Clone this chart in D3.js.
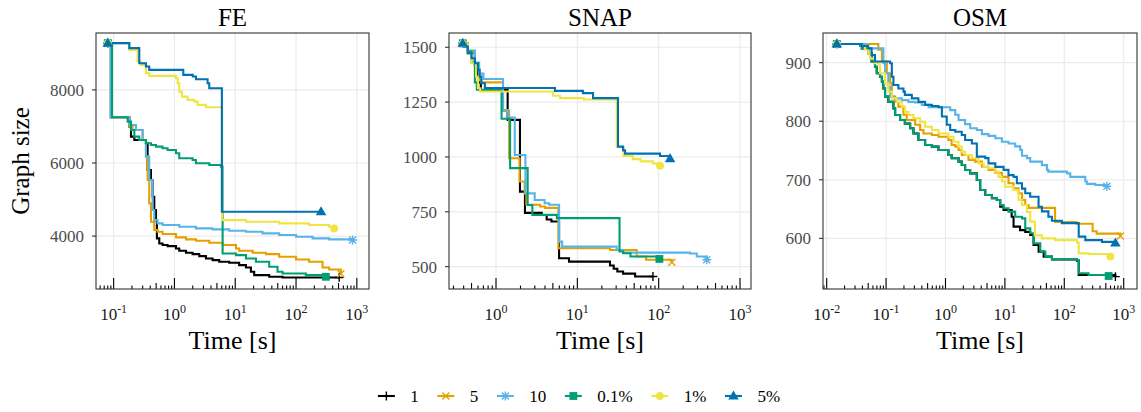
<!DOCTYPE html>
<html>
<head>
<meta charset="utf-8">
<style>
  body { margin: 0; background: #fff; }
  svg, svg text { font-family: "Liberation Serif", "Times New Roman", serif; }
  svg { display: block; }
</style>
</head>
<body>
<svg id="chart" width="1141" height="412"></svg>
<script src="https://d3js.org/d3.v7.min.js"></script>
<script>
// series order as in the legend
const seriesNames = ["1", "5", "10", "0.1%", "1%", "5%"];
const seriesColors = ["#000000", "#E69F00", "#56B4E9", "#009E73", "#F0E442", "#0072B2"];
const seriesShapes = ["plus", "cross", "asterisk", "square", "circle", "triangle"];

// FE: [time s, graph size]
const fe_1 = [[0.080,9279],[0.090,7251],[0.181,6995],[0.193,6722],[0.219,6630],[0.34,6539],[0.362,5808],[0.411,5534],[0.438,5078],[0.466,4713],[0.497,4438],[0.515,3936],[0.563,3799],[0.638,3754],[0.772,3726],[1.06,3662],[1.20,3598],[1.55,3544],[1.99,3507],[2.56,3452],[3.30,3388],[4.24,3343],[5.46,3297],[7.96,3270],[11.6,3206],[15.0,3142],[18.1,3023],[20.5,2932],[36.2,2886],[60,2868],[513,2868]];
const fe_5 = [[0.080,9279],[0.090,7251],[0.181,6995],[0.205,6904],[0.30,6630],[0.34,6174],[0.362,5534],[0.385,4895],[0.411,4393],[0.466,4165],[0.528,4119],[0.638,4055],[1.06,3964],[1.55,3909],[2.26,3872],[3.74,3818],[6.2,3754],[10.3,3662],[11.6,3598],[19.3,3544],[31.9,3507],[52.8,3434],[100,3361],[164,3297],[273,3142],[351,3087],[546,2970]];
const fe_10 = [[0.080,9279],[0.090,7251],[0.181,7041],[0.233,6904],[0.30,6630],[0.34,6174],[0.385,5534],[0.438,4713],[0.466,4438],[0.528,4347],[0.638,4302],[1.20,4256],[2.26,4210],[4.24,4183],[7.96,4146],[15.0,4119],[28.1,4073],[52.8,4028],[100,3982],[187,3936],[351,3909],[849,3891]];
const fe_01 = [[0.080,9279],[0.094,7251],[0.170,7132],[0.193,6904],[0.219,6722],[0.264,6630],[0.34,6539],[0.411,6493],[0.497,6448],[0.638,6402],[0.772,6356],[1.06,6265],[1.20,6128],[1.99,6082],[2.26,5991],[3.74,5945],[5.81,5900],[6.2,3525],[10.3,3480],[15.0,3388],[21.9,3297],[36.2,3160],[49.6,3023],[60,2977],[145,2932],[309,2886]];
const fe_1pct = [[0.080,9279],[0.181,9096],[0.248,8776],[0.281,8685],[0.34,8457],[0.385,8384],[1.06,8320],[1.13,8183],[1.20,7954],[1.33,7817],[1.64,7726],[2.12,7680],[2.40,7589],[3.30,7525],[6.1,4438],[15.0,4393],[52.8,4347],[164,4302],[351,4256],[424,4210]];
const fe_5pct = [[0.080,9279],[0.181,9142],[0.264,8730],[0.34,8639],[0.385,8548],[1.40,8411],[2.0,8365],[2.26,8292],[3.51,8183],[3.74,8046],[6.03,4667],[258,4667]];

// SNAP
const snap_1 = [[0.39,1518],[0.45,1475],[0.55,1420],[0.60,1340],[0.65,1305],[1.39,1169],[1.97,842],[2.27,745],[3.65,735],[4.2,715],[4.8,706],[5.96,538],[7.9,523],[25.2,505],[28,490],[31,478],[36.5,468],[51.3,455],[85,455]];
const snap_5 = [[0.39,1518],[0.45,1478],[0.55,1410],[0.62,1350],[0.66,1340],[1.22,1210],[1.45,994],[1.95,888],[2.25,834],[2.36,782],[3.48,774],[4.0,768],[5.84,584],[25.2,576],[53.7,546],[70,531],[145,520]];
const snap_10 = [[0.39,1518],[0.45,1485],[0.55,1430],[0.62,1380],[0.70,1355],[1.22,1214],[1.41,1180],[1.70,1009],[2.3,834],[2.99,804],[3.96,789],[4.5,782],[5.96,614],[6.5,591],[30.5,576],[36.5,564],[243,560],[294,546],[390,531]];
const snap_01 = [[0.39,1518],[0.45,1480],[0.50,1430],[0.55,1340],[0.58,1306],[1.17,1174],[1.49,949],[2.45,781],[2.8,736],[5.6,721],[33,569],[36.5,561],[45,546],[102,535]];
const snap_1pct = [[0.39,1518],[0.45,1470],[0.50,1427],[0.57,1366],[0.60,1313],[0.64,1298],[5.03,1279],[6.13,1268],[12,1262],[30.5,1045],[37,1005],[48,990],[60,980],[85,970],[104,960]];
const snap_5pct = [[0.39,1518],[0.41,1503],[0.45,1473],[0.50,1450],[0.55,1427],[0.60,1397],[0.63,1366],[0.66,1336],[0.73,1314],[5.3,1301],[11.7,1291],[15.6,1268],[31.6,1047],[36.5,1030],[38.6,1015],[104,1004],[138,992]];

// OSM
const osm_01 = [[0.0148,932],[0.0365,928.5],[0.039,924.5],[0.050,916],[0.057,902],[0.065,893],[0.0697,882],[0.079,876],[0.085,867.6],[0.090,856],[0.096,842],[0.109,833],[0.133,822],[0.142,810.6],[0.172,802],[0.207,796],[0.254,788],[0.289,779],[0.35,768],[0.454,759.4],[0.589,756.6],[0.762,751],[1.12,742.3],[1.27,736.7],[1.66,731],[1.88,725.3],[2.14,716.7],[2.6,711],[3.37,699.7],[3.84,682.6],[4.67,674],[6.04,668.4],[7.33,665.5],[8.34,657],[9.5,651.3],[11.5,645.6],[14.9,637],[19.4,634.2],[22.0,617],[26.7,608.6],[30.4,591.5],[39.4,577.3],[47.9,568.8],[62,564.2],[163,563],[175,540.3],[257,537.5],[558,535.7]];
const osm_1 = [[0.0148,932],[0.0365,928.5],[0.039,924.5],[0.050,916],[0.057,902],[0.065,893],[0.0697,882],[0.079,876],[0.085,867.6],[0.090,856],[0.096,842],[0.109,833],[0.133,822],[0.142,810.6],[0.172,802],[0.207,796],[0.254,788],[0.289,779],[0.35,768],[0.454,759.4],[0.589,756.6],[0.762,751],[1.12,742.3],[1.27,736.7],[1.66,731],[1.88,725.3],[2.14,716.7],[2.6,711],[3.37,699.7],[3.84,682.6],[4.67,674],[6.04,668.4],[7.33,665.5],[8.34,654],[9.5,648.4],[13,637],[14.0,620],[18,614],[22,611],[26.7,605.7],[30.4,588.7],[37,577.3],[45,568.8],[62,564],[163,562],[175,537.5],[725,534.6]];
const osm_5 = [[0.0148,932],[0.074,922],[0.085,902],[0.103,882],[0.117,865],[0.125,842],[0.142,833],[0.161,825],[0.196,811],[0.223,802],[0.308,794],[0.374,785],[0.426,779],[0.589,776.5],[0.762,773.6],[1.12,768],[1.27,759.4],[1.46,756.6],[1.66,751],[1.88,742.3],[2.44,734],[3.16,731],[4.1,722.4],[5.3,716.7],[6.9,712],[8.9,705],[11.5,694],[14.0,685.4],[17.0,677],[19.4,665.5],[22.0,657],[25,652],[70,628],[160,625],[300,612],[351,608],[880,604]];
const osm_10 = [[0.0148,932],[0.047,924.5],[0.090,899],[0.096,882],[0.109,859],[0.117,842],[0.133,839],[0.184,836],[0.238,833],[0.308,832],[0.40,828],[0.52,824],[1.20,819],[1.46,811],[1.66,802],[2.14,795],[2.61,788],[3.37,785],[4.1,778],[5.3,775],[6.9,771],[8.9,765],[11.5,762],[14.9,757],[18.1,751],[19.4,741],[23.5,737],[26.7,731],[42,725],[51,717],[54,714],[111,711],[126,705],[226,697],[240,693],[333,691],[520,689]];
const osm_1pct = [[0.0148,932],[0.039,928.5],[0.044,922],[0.050,916],[0.054,907],[0.065,899],[0.079,882],[0.096,865],[0.109,850.5],[0.125,839],[0.151,833],[0.184,825],[0.207,816],[0.238,810.6],[0.289,805],[0.374,799],[0.454,790.7],[0.589,785],[0.762,779],[1.12,773.6],[1.36,765],[1.66,756.6],[1.88,748],[2.14,742.3],[2.78,736.7],[3.6,728],[4.37,722.4],[5.3,719.6],[6.9,714],[7.8,705],[8.9,697],[10.1,688],[14.0,682.6],[17.0,665.5],[19.4,657],[23.5,645],[26.7,628.5],[32,605],[42,600],[70,597],[163,593],[175,574.4],[257,573.3],[596,568.8]];
const osm_5pct = [[0.0148,932],[0.039,928.5],[0.050,924.5],[0.057,913],[0.065,902],[0.117,899],[0.125,876],[0.133,862],[0.161,856],[0.196,850.5],[0.207,845],[0.271,839],[0.35,833],[0.454,828],[0.589,826],[0.762,824],[0.87,808],[1.05,794],[1.2,785],[1.46,782],[1.88,776.5],[2.14,768],[2.78,762],[3.37,739.5],[4.67,737],[5.3,728],[6.9,722],[9.5,717],[11.5,708],[14.0,705],[15.9,694],[19.4,685],[22.0,677],[26.7,671],[36.9,654],[42,646],[54,637],[62,630],[91,626],[175,603],[226,597],[431,594],[725,592]];

// tick labels
const feYTicks = [4000, 6000, 8000];
const snapYTicks = [500, 750, 1000, 1250, 1500];
const osmYTicks = [600, 700, 800, 900];
const feXExp = [-1, 0, 1, 2, 3];
const snapXExp = [0, 1, 2, 3];
const osmXExp = [-2, -1, 0, 1, 2, 3];

const panels = [
  { title: "FE", series: [fe_1, fe_5, fe_10, fe_01, fe_1pct, fe_5pct], yTicks: feYTicks, xExp: feXExp,
    left: 96, right: 369, xDomain: [Math.pow(10, -1.29), Math.pow(10, 3.2)], yDomain: [2552, 9557] },
  { title: "SNAP", series: [snap_1, snap_5, snap_10, snap_01, snap_1pct, snap_5pct], yTicks: snapYTicks, xExp: snapXExp,
    left: 449, right: 751, xDomain: [Math.pow(10, -0.578), Math.pow(10, 3.135)], yDomain: [398, 1565] },
  { title: "OSM", series: [osm_1, osm_5, osm_10, osm_01, osm_1pct, osm_5pct], yTicks: osmYTicks, xExp: osmXExp,
    left: 823, right: 1137, xDomain: [Math.pow(10, -2.062), Math.pow(10, 3.224)], yDomain: [513.5, 950.7] }
];
const panelTop = 33, panelBottom = 289;
const serif = "Liberation Serif";

const svg = d3.select("#chart").attr("font-family", serif);

function drawMarker(g, shape, x, y, color) {
  const r = 4.4;
  const c = r * 0.8;
  if (shape === "plus" || shape === "cross" || shape === "asterisk") {
    let d = "";
    if (shape !== "cross") d += `M${x - r},${y}H${x + r}M${x},${y - r}V${y + r}`;
    if (shape !== "plus") d += `M${x - c},${y - c}L${x + c},${y + c}M${x - c},${y + c}L${x + c},${y - c}`;
    g.append("path").attr("d", d).attr("stroke", color).attr("stroke-width", 1.4).attr("fill", "none");
  } else if (shape === "square") {
    g.append("rect").attr("x", x - 3.9).attr("y", y - 3.9).attr("width", 7.8).attr("height", 7.8).attr("fill", color);
  } else if (shape === "circle") {
    g.append("circle").attr("cx", x).attr("cy", y).attr("r", 3.9).attr("fill", color);
  } else {
    g.append("path").attr("d", d3.symbol(d3.symbolTriangle, 48)()).attr("transform", `translate(${x},${y + 0.5})`).attr("fill", color);
  }
}

panels.forEach(p => {
  const x = d3.scaleLog().domain(p.xDomain).range([p.left, p.right]);
  const y = d3.scaleLinear().domain(p.yDomain).range([panelBottom, panelTop]);
  const g = svg.append("g");

  // grid
  g.selectAll(".gx").data(p.xExp).enter().append("line")
    .attr("x1", d => x(Math.pow(10, d))).attr("x2", d => x(Math.pow(10, d)))
    .attr("y1", panelTop).attr("y2", panelBottom).attr("stroke", "#EBEBEB").attr("stroke-width", 1.2);
  g.selectAll(".gy").data(p.yTicks).enter().append("line")
    .attr("x1", p.left).attr("x2", p.right)
    .attr("y1", d => y(d)).attr("y2", d => y(d)).attr("stroke", "#EBEBEB").attr("stroke-width", 1.2);

  // lines
  const line = d3.line().x(d => x(d[0])).y(d => y(d[1])).curve(d3.curveStepAfter);
  p.series.forEach((s, i) => {
    g.append("path").datum(s).attr("d", line).attr("fill", "none")
      .attr("stroke", seriesColors[i]).attr("stroke-width", 2.1);
  });
  p.series.forEach((s, i) => {
    [s[0], s[s.length - 1]].forEach(pt => drawMarker(g, seriesShapes[i], x(pt[0]), y(pt[1]), seriesColors[i]));
  });

  // log ticks along the bottom, inside the panel
  const lo = Math.floor(Math.log10(p.xDomain[0])), hi = Math.ceil(Math.log10(p.xDomain[1]));
  const minor = [];
  for (let k = lo; k <= hi; k++) for (let m = 1; m <= 9; m++) {
    const v = m * Math.pow(10, k);
    if (v >= p.xDomain[0] && v <= p.xDomain[1]) minor.push({ v, m });
  }
  g.selectAll(".lt").data(minor).enter().append("line")
    .attr("x1", d => x(d.v)).attr("x2", d => x(d.v))
    .attr("y1", panelBottom).attr("y2", d => panelBottom - (d.m === 1 ? 11 : d.m === 5 ? 6 : 3.4))
    .attr("stroke", "#000").attr("stroke-width", 1.1);

  // border
  g.append("rect").attr("x", p.left).attr("y", panelTop).attr("width", p.right - p.left).attr("height", panelBottom - panelTop)
    .attr("fill", "none").attr("stroke", "#333333").attr("stroke-width", 1.1);

  // y axis
  g.selectAll(".yt").data(p.yTicks).enter().append("line")
    .attr("x1", p.left - 4).attr("x2", p.left).attr("y1", d => y(d)).attr("y2", d => y(d))
    .attr("stroke", "#333333").attr("stroke-width", 1.1);
  g.selectAll(".yl").data(p.yTicks).enter().append("text")
    .attr("x", p.left - 12).attr("y", d => y(d)).attr("dy", "0.35em")
    .attr("text-anchor", "end").attr("font-family", serif).attr("font-size", 17).attr("fill", "#4D4D4D")
    .text(d => d);

  // x tick labels 10^k
  const xl = g.selectAll(".xl").data(p.xExp).enter().append("text")
    .attr("x", d => x(Math.pow(10, d))).attr("y", 320)
    .attr("text-anchor", "middle").attr("font-family", serif).attr("font-size", 17).attr("fill", "#1a1a1a");
  xl.append("tspan").text("10");
  xl.append("tspan").attr("dy", -7).attr("font-size", 12).text(d => d);

  // titles
  g.append("text").attr("x", (p.left + p.right) / 2).attr("y", 26).attr("text-anchor", "middle")
    .attr("font-family", serif).attr("font-size", 25).attr("fill", "#000").text(p.title);
  g.append("text").attr("x", (p.left + p.right) / 2).attr("y", 349).attr("text-anchor", "middle")
    .attr("font-family", serif).attr("font-size", 26).attr("fill", "#000").text("Time [s]");
});

svg.append("text").attr("transform", "translate(29,161) rotate(-90)").attr("text-anchor", "middle")
  .attr("font-family", serif).attr("font-size", 25).attr("fill", "#000").text("Graph size");

// legend
const legend = svg.append("g");
let cx = 0;
seriesNames.forEach((name, i) => {
  const item = legend.append("g");
  item.append("line").attr("x1", cx - 8.5).attr("x2", cx + 8.5).attr("y1", 396).attr("y2", 396)
    .attr("stroke", seriesColors[i]).attr("stroke-width", 2.1);
  drawMarker(item, seriesShapes[i], cx, 396, seriesColors[i]);
  const t = item.append("text").attr("x", cx + 24).attr("y", 396).attr("dy", "0.35em")
    .attr("font-family", serif).attr("font-size", 17).attr("fill", "#000").text(name);
  cx = cx + 24 + t.node().getComputedTextLength() + 27;
});
const lb = legend.node().getBBox();
legend.attr("transform", `translate(${579 - (lb.x + lb.width / 2)},0)`);
</script>
</body>
</html>
